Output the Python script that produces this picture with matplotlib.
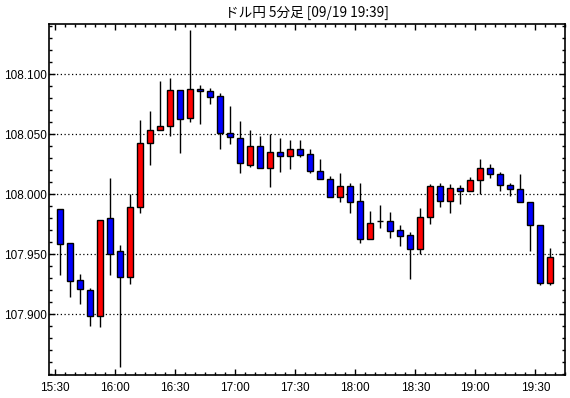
import matplotlib
matplotlib.use("Agg")
import matplotlib.pyplot as plt
from matplotlib.ticker import MultipleLocator, FixedLocator
import numpy as np

title = "ドル円 5分足 [09/19 19:39]"

opens = [107.9875, 107.9592, 107.9283, 107.9200, 107.8983, 107.9800, 107.9525, 107.9308, 107.9897, 108.0431,
         108.0533, 108.0567, 108.0867, 108.0633, 108.0875, 108.0858, 108.0817, 108.0514, 108.0467, 108.0247,
         108.0400, 108.0222, 108.0350, 108.0322, 108.0375, 108.0333, 108.0197, 108.0131, 107.9981, 108.0067,
         107.9942, 107.9631, 107.9775, 107.9775, 107.9700, 107.9658, 107.9547, 107.9808, 108.0067, 107.9947,
         108.0050, 108.0031, 108.0117, 108.0217, 108.0167, 108.0075, 108.0042, 107.9933, 107.9747, 107.9258]
closes = [107.9589, 107.9281, 107.9208, 107.8983, 107.9783, 107.9506, 107.9308, 107.9892, 108.0425, 108.0533,
          108.0567, 108.0867, 108.0625, 108.0875, 108.0858, 108.0814, 108.0514, 108.0475, 108.0264, 108.0400,
          108.0222, 108.0350, 108.0322, 108.0375, 108.0331, 108.0197, 108.0131, 107.9981, 108.0067, 107.9939,
          107.9631, 107.9758, 107.9775, 107.9697, 107.9656, 107.9547, 107.9808, 108.0067, 107.9947, 108.0050,
          108.0031, 108.0117, 108.0217, 108.0167, 108.0075, 108.0042, 107.9933, 107.9747, 107.9258, 107.9475]
highs = [107.9875, 107.9592, 107.9336, 107.9217, 107.9783, 108.0133, 107.9578, 108.0000, 108.0622, 108.0694,
         108.0944, 108.0967, 108.0867, 108.1367, 108.0911, 108.0883, 108.0844, 108.0733, 108.0608, 108.0536,
         108.0486, 108.0500, 108.0469, 108.0453, 108.0453, 108.0375, 108.0292, 108.0153, 108.0178, 108.0094,
         108.0094, 107.9861, 107.9911, 107.9853, 107.9744, 107.9683, 107.9886, 108.0083, 108.0094, 108.0086,
         108.0078, 108.0142, 108.0294, 108.0253, 108.0183, 108.0092, 108.0169, 107.9933, 107.9747, 107.9553]
lows = [107.9328, 107.9147, 107.9086, 107.8906, 107.8897, 107.9328, 107.8558, 107.9253, 107.9844, 108.0244,
        108.0533, 108.0489, 108.0347, 108.0606, 108.0589, 108.0753, 108.0381, 108.0422, 108.0181, 108.0231,
        108.0222, 108.0064, 108.0189, 108.0214, 108.0314, 108.0181, 108.0131, 107.9975, 107.9939, 107.9847,
        107.9597, 107.9631, 107.9722, 107.9639, 107.9572, 107.9297, 107.9500, 107.9756, 107.9897, 107.9847,
        107.9922, 108.0031, 108.0000, 108.0139, 108.0028, 107.9989, 107.9933, 107.9531, 107.9247, 107.9247]

x_labels = ["15:30", "16:00", "16:30", "17:00", "17:30", "18:00", "18:30", "19:00", "19:30"]
y_labels = ["107.900", "107.950", "108.000", "108.050", "108.100"]

fig = plt.figure(figsize=(5.70, 3.98), dpi=100)
ax = fig.add_axes([49.3/570, 1-375/398, (565.3-49.3)/570, (375-24.3)/398])

n = len(opens)
xs = np.arange(n) * 5 + 2.5  # minutes since 15:30, candle centred in its 5-minute slot
o = np.array(opens); c = np.array(closes); h = np.array(highs); l = np.array(lows)

ax.vlines(xs, l, h, color="black", linewidth=1.0, zorder=2)
colors = []
for oo, cc in zip(o, c):
    if cc > oo:
        colors.append("#ff0000")
    elif cc < oo:
        colors.append("#0000ff")
    else:
        colors.append("black")
bottoms = np.minimum(o, c)
heights = np.abs(c - o)
ax.bar(xs, heights, bottom=bottoms, width=3.0, color=colors, edgecolor="black",
       linewidth=1.0, zorder=3)

ax.set_xlim(-3, 255)
ax.set_ylim(107.8494, 108.1417)

yvals = [float(v) for v in y_labels]
ax.yaxis.set_major_locator(FixedLocator(yvals))
ax.set_yticklabels(y_labels)
ax.yaxis.set_minor_locator(MultipleLocator(0.01))
ax.xaxis.set_major_locator(FixedLocator([30 * i for i in range(len(x_labels))]))
ax.set_xticklabels(x_labels)
ax.xaxis.set_minor_locator(MultipleLocator(5))

for v in yvals:
    ax.axhline(v, color="black", linewidth=0.9, linestyle=(0, (1, 2)), zorder=1)

ax.tick_params(which="both", direction="in", top=True, right=True, labelsize=8.5,
               colors="black", width=1.0)
ax.tick_params(which="major", length=4)
ax.tick_params(which="minor", length=2.3)
ax.tick_params(axis="y", pad=1.5)
ax.tick_params(axis="x", pad=5)
for lab in ax.get_xticklabels() + ax.get_yticklabels():
    lab.set_family("Liberation Sans")
for sp in ax.spines.values():
    sp.set_linewidth(1.2)

fig.text((49.3 + 565.3) / 2 / 570, 1 - 12.5 / 398, title, ha="center", va="center",
         fontsize=9.8, family=["Noto Sans CJK JP", "DejaVu Sans"])

fig.savefig("out.png", dpi=100)
